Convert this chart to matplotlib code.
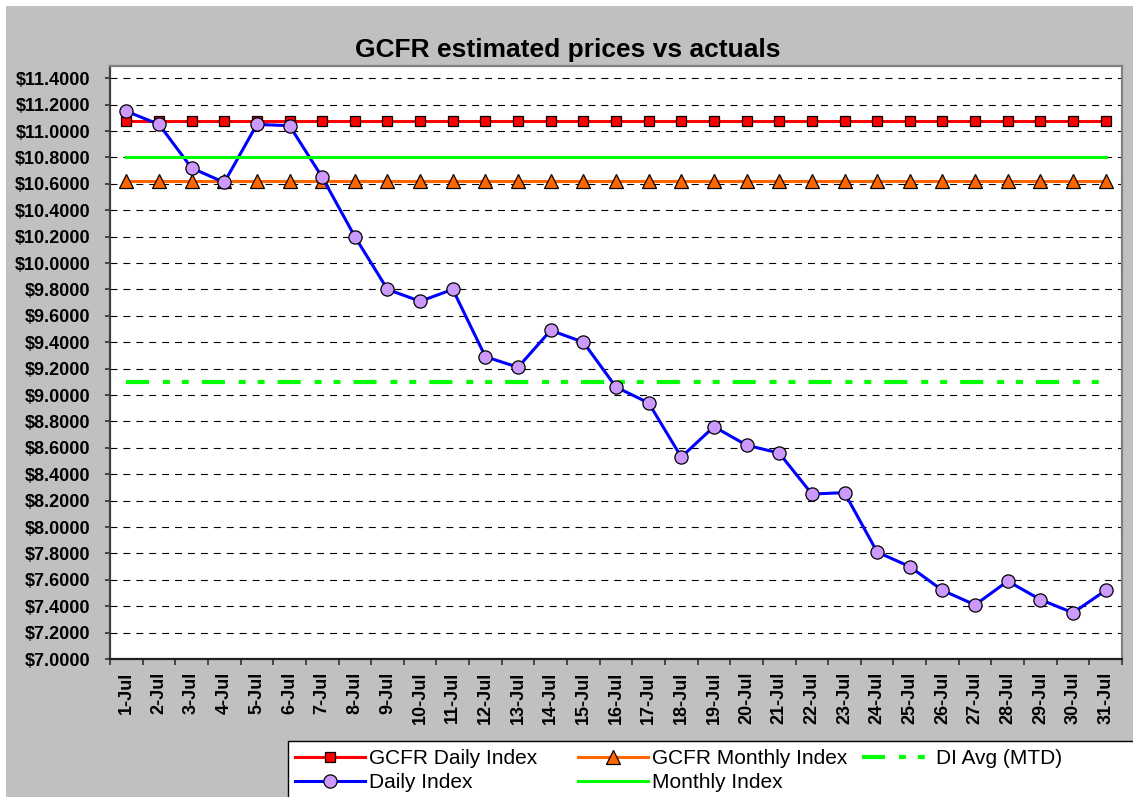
import matplotlib
matplotlib.use("Agg")
import matplotlib.pyplot as plt
from matplotlib.patches import Rectangle
from matplotlib.lines import Line2D
from matplotlib.ticker import FuncFormatter, MultipleLocator, FixedLocator

plt.rcParams['font.family'] = ['Liberation Sans', 'DejaVu Sans']
plt.rcParams['lines.scale_dashes'] = False

# data
days = [f"{d}-Jul" for d in range(1, 32)]
daily_index = [11.15, 11.05, 10.72, 10.61, 11.05, 11.04, 10.65, 10.20, 9.80, 9.71,
               9.80, 9.29, 9.21, 9.49, 9.40, 9.06, 8.94, 8.53, 8.76, 8.62,
               8.56, 8.25, 8.26, 7.81, 7.70, 7.52, 7.41, 7.59, 7.45, 7.35, 7.52]
gcfr_daily = [11.075] * len(days)
gcfr_monthly = [10.62] * len(days)
monthly_index = [10.80] * len(days)
di_avg = [9.10] * len(days)

W, H = 1133, 797
fig = plt.figure(figsize=(W / 100, H / 100), dpi=100)
fig.patch.set_facecolor('white')
fig.patches.append(Rectangle((6 / W, 0), 1, 1 - 6 / H, transform=fig.transFigure,
                             facecolor='#C0C0C0', edgecolor='none', zorder=-10))

ax = fig.add_axes([110 / W, 1 - 659 / H, (1122 - 110) / W, (659 - 66) / H])
ax.set_facecolor('white')
x = list(range(len(days)))

dash_dot_dot = (0, (16.6, 10, 5, 8.6, 5, 9.4))

l1, = ax.plot(x, gcfr_daily, color='#FF0000', lw=2.2, marker='s', ms=6.8,
              mfc='#FF0000', mec='black', mew=0.9, zorder=3, label='GCFR Daily Index')
l2, = ax.plot(x, gcfr_monthly, color='#FF6600', lw=2.2, marker='^', ms=10,
              mfc='#FF6600', mec='black', mew=0.9, zorder=3, label='GCFR Monthly Index')
l3, = ax.plot(x, di_avg, color='#00FF00', lw=3, linestyle=dash_dot_dot,
              dash_capstyle='butt', zorder=3, label='DI Avg (MTD)')
l4, = ax.plot(x, daily_index, color='#0000FF', lw=2.2, marker='o', ms=9.5,
              mfc='#CC99FF', mec='black', mew=0.9, zorder=4, label='Daily Index')
l5, = ax.plot(x, monthly_index, color='#00FF00', lw=2.2, zorder=5, label='Monthly Index')

ax.set_xlim(-0.5, len(days) - 0.5)
ax.set_ylim(7.0, 7.0 + 593 / 132)

ax.yaxis.set_major_locator(FixedLocator([7.0 + 0.2 * i for i in range(23)]))
ax.yaxis.set_major_formatter(FuncFormatter(lambda v, p: f"${v:.4f}"))
ax.set_xticks(x)
ax.set_xticklabels(days, rotation=90, fontsize=13, fontweight='bold')
ax.xaxis.set_minor_locator(MultipleLocator(1, offset=0.5))
ax.tick_params(axis='x', which='major', length=0, pad=9.4)
ax.tick_params(axis='x', which='minor', length=4.5, width=1.2, color='#303030', direction='out')
ax.tick_params(axis='y', which='major', length=3.6, width=1.2, color='#303030',
               direction='out', pad=10.5, labelsize=13)
for t in ax.get_yticklabels():
    t.set_fontweight('bold')

ax.grid(axis='y', color='black', lw=0.8, linestyle=(0, (5, 4.3)))
ax.set_axisbelow(True)

ax.spines['left'].set_color('#404040')
ax.spines['left'].set_linewidth(1.6)
ax.spines['bottom'].set_color('#202020')
ax.spines['bottom'].set_linewidth(1.6)
ax.spines['top'].set_color('#808080')
ax.spines['top'].set_linewidth(1.6)
ax.spines['right'].set_color('#808080')
ax.spines['right'].set_linewidth(1.6)

fig.text(568 / W, 1 - 57 / H, "GCFR estimated prices vs actuals", ha='center',
         va='baseline', fontsize=19, fontweight='bold')

# legend box runs off the right and bottom edge of the picture
box_x, box_y = 288 / W, 1 - 741 / H
fig.patches.append(Rectangle((box_x, 0), 1, box_y, transform=fig.transFigure,
                             facecolor='white', edgecolor='none', zorder=1))
fig.lines.append(Line2D([box_x, box_x, 1], [0, box_y, box_y], transform=fig.transFigure,
                        color='black', lw=1, zorder=2))

leg_kw = dict(loc='upper left', bbox_transform=fig.transFigure, frameon=False,
              borderpad=0, borderaxespad=0, handlelength=3.36, handletextpad=0.2,
              labelspacing=0.24, fontsize=15, numpoints=1)
for handles, x0 in [([l1, l4], 295), ([l2, l5], 578), ([l3], 862)]:
    lg = fig.legend(handles=handles, labels=[h.get_label() for h in handles],
                    bbox_to_anchor=(x0 / W, 1 - 749.5 / H), **leg_kw)
    lg.set_zorder(5)

fig.savefig("out.png", dpi=100, facecolor=fig.get_facecolor())
